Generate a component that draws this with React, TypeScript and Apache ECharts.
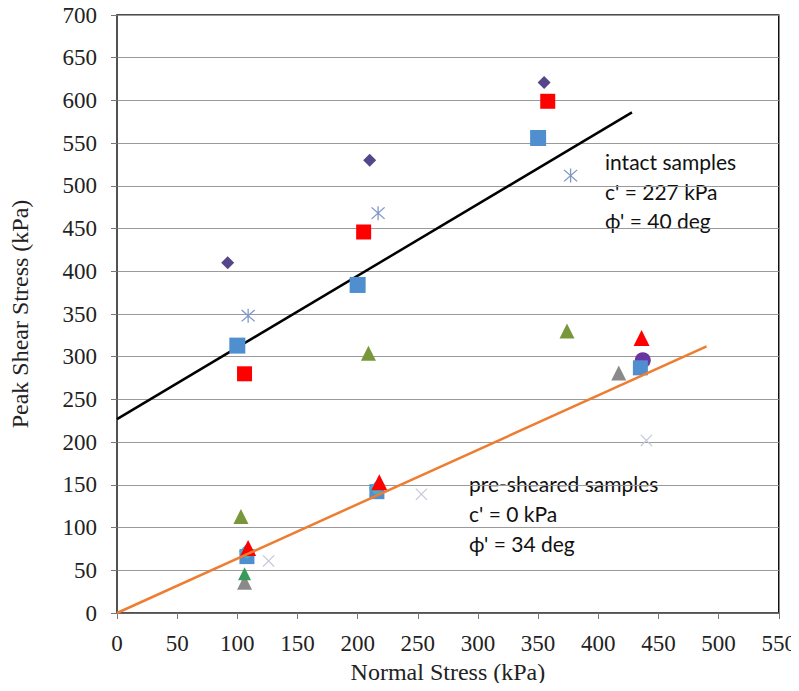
import React, { useEffect, useRef } from "react";
import * as echarts from "echarts";

// Intact samples: [normal stress, peak shear stress] in kPa
const intactDiamond: number[][] = [[92, 410], [210, 530], [355, 621]];
const intactRedSquare: number[][] = [[106, 280], [205, 446], [358, 599]];
const intactBlueSquare: number[][] = [[100, 313], [200, 384], [350, 556]];
const intactAsterisk: number[][] = [[109, 348], [217, 468], [377, 512]];
const greenTriangle: number[][] = [[103, 113], [209, 304], [374, 330]];

// Pre-sheared samples
const preRedTriangle: number[][] = [[109, 76], [218, 153], [436, 322]];
const preBlueSquare: number[][] = [[108, 66], [216, 142], [435, 287]];
const preTealDiamond: number[][] = [[108, 72], [216, 146]];
const prePurpleCircle: number[][] = [[437, 296]];
const preGreyTriangle: number[][] = [[106, 36], [417, 281]];
const preGreenTriangle: number[][] = [[106, 46]];
const preFaintCross: number[][] = [[126, 61], [253, 139], [440, 202]];

// Strength envelopes
const intactEnvelope: number[][] = [[0, 227], [428, 586]];
const preShearedEnvelope: number[][] = [[0, 0], [490, 312]];

const xTicks = { min: 0, max: 550, interval: 50 };
const yTicks = { min: 0, max: 700, interval: 50 };

const ASTERISK =
  "path://M4.6 0L5.4 0L5.4 10L4.6 10Z M0.6 1.2L1.2 0.6L9.4 8.8L8.8 9.4Z M8.8 0.6L9.4 1.2L1.2 9.4L0.6 8.8Z";
const CROSS = "path://M0.6 1.2L1.2 0.6L9.4 8.8L8.8 9.4Z M8.8 0.6L9.4 1.2L1.2 9.4L0.6 8.8Z";

const serif = "'Liberation Serif', 'Times New Roman', serif";
const sans = "Lato, 'Noto Sans', sans-serif";

function scatter(data: number[][], symbol: string, size: number, color: string, z = 3) {
  return {
    type: "scatter",
    data,
    symbol,
    symbolSize: size,
    itemStyle: { color, opacity: 1 },
    z,
  };
}

function note(text: string, x: number, y: number) {
  return {
    type: "text",
    x,
    y,
    style: { text, font: `21px ${sans}`, fill: "#111", verticalAlign: "middle" },
  };
}

const tickText = { fontFamily: serif, fontSize: 23, color: "#222" };
const nameText = { fontFamily: serif, fontSize: 24, color: "#222" };

export default function App() {
  const ref = useRef<HTMLDivElement>(null);

  useEffect(() => {
    if (!ref.current) return;
    const chart = echarts.init(ref.current, null, { renderer: "svg" });
    chart.setOption({
      animation: false,
      backgroundColor: "#fff",
      textStyle: { fontFamily: serif },
      grid: {
        left: 117,
        right: 20,
        top: 15,
        bottom: 78,
        show: true,
        borderColor: "#111",
        borderWidth: 1.5,
      },
      xAxis: {
        type: "value",
        ...xTicks,
        name: "Normal Stress (kPa)",
        nameLocation: "middle",
        nameGap: 47,
        nameTextStyle: { ...nameText },
        axisLine: { show: true, lineStyle: { color: "#555", width: 1.5 } },
        axisTick: { show: true, length: 6, lineStyle: { color: "#777" } },
        axisLabel: { ...tickText, margin: 19 },
        splitLine: { show: false },
      },
      yAxis: {
        type: "value",
        ...yTicks,
        name: "Peak Shear Stress (kPa)",
        nameLocation: "middle",
        nameGap: 85,
        nameTextStyle: { ...nameText },
        axisLine: { show: true, lineStyle: { color: "#555", width: 1.5 } },
        axisTick: { show: true, length: 6, lineStyle: { color: "#777" } },
        axisLabel: { ...tickText, margin: 20 },
        splitLine: { show: true, lineStyle: { color: "#9a9a9a", width: 1.2 } },
      },
      series: [
        {
          type: "line",
          data: intactEnvelope,
          showSymbol: false,
          lineStyle: { color: "#000", width: 2.5 },
          z: 2,
        },
        {
          type: "line",
          data: preShearedEnvelope,
          showSymbol: false,
          lineStyle: { color: "#ed7d31", width: 2.5 },
          z: 4,
        },
        scatter(intactDiamond, "diamond", 13, "#55458a"),
        scatter(intactRedSquare, "rect", 15, "#ff0000"),
        scatter(intactBlueSquare, "rect", 16, "#4f8fd0"),
        scatter(intactAsterisk, ASTERISK, 14, "#7f97c8"),
        scatter(greenTriangle, "triangle", 15, "#78973a"),
        scatter(preFaintCross, CROSS, 12, "#c4c8d8"),
        scatter(preGreyTriangle, "triangle", 15, "#8a8a8a"),
        scatter(preGreenTriangle, "triangle", 13, "#3a9a5c"),
        scatter(prePurpleCircle, "circle", 16, "#6a35a0"),
        scatter(preBlueSquare, "rect", 15, "#4f8fd0"),
        scatter(preTealDiamond, "diamond", 16, "#4bacc6"),
        scatter(preRedTriangle, "triangle", 16, "#ff0000"),
      ],
      graphic: [
        note("intact samples", 605, 161),
        note("c' = 227 kPa", 605, 191),
        note("ϕ' = 40 deg", 605, 220),
        note("pre-sheared samples", 469, 483),
        note("c' = 0 kPa", 469, 513),
        note("ϕ' = 34 deg", 469, 543),
      ],
    });
    return () => chart.dispose();
  }, []);

  return <div ref={ref} style={{ width: 799, height: 691, margin: -8 }} />;
}
